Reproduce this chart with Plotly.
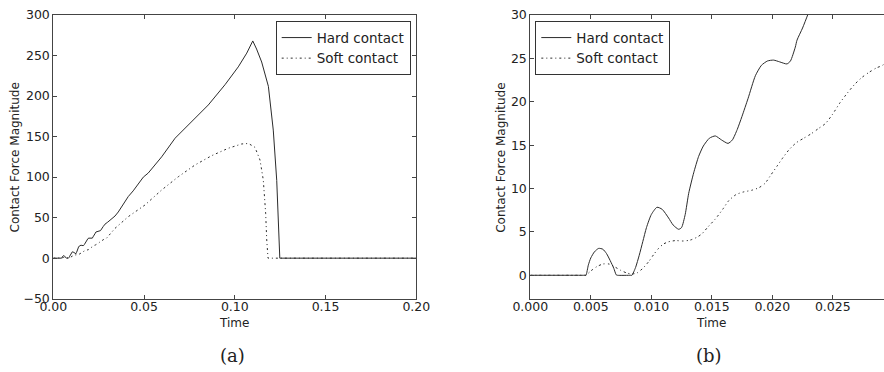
import plotly.graph_objects as go

# Contact force histories (time in s, force magnitude)
hard_t = [0.0, 0.0040, 0.0045, 0.0046, 0.0048, 0.0050, 0.0053, 0.00565, 0.0060, 0.0063, 0.0066,
          0.0069, 0.0071, 0.0072, 0.0083, 0.0084, 0.0087, 0.0090, 0.0093, 0.0096, 0.0100, 0.01047,
          0.0109, 0.01143, 0.0118, 0.01226, 0.0125, 0.0128, 0.01309, 0.0135, 0.01391, 0.0143, 0.0148,
          0.01529, 0.0158, 0.01634, 0.0167, 0.0171, 0.01749, 0.0180, 0.0186, 0.0191, 0.0196, 0.02011,
          0.0206, 0.02121, 0.0215, 0.0219, 0.02204, 0.0225, 0.02292, 0.0235, 0.0245, 0.0260, 0.0275,
          0.0285, 0.0300, 0.0320, 0.0340, 0.0358, 0.0386, 0.0413, 0.0440, 0.0468, 0.0496, 0.0523,
          0.0597, 0.0671, 0.0763, 0.0854, 0.0946, 0.1019, 0.1066, 0.1099, 0.1120, 0.1148, 0.1185,
          0.1212, 0.1231, 0.1244, 0.1248, 0.2000]
hard_f = [0.0, 0.0, 0.0, 0.0, 1.2, 2.0, 2.7, 3.1, 3.0, 2.5, 1.7,
          0.8, 0.05, 0.0, 0.0, 0.0, 0.9, 2.3, 3.9, 5.5, 7.0, 7.84,
          7.6, 6.6, 5.8, 5.3, 5.5, 7.0, 9.45, 11.8, 13.7, 14.9, 15.8,
          16.06, 15.6, 15.2, 15.6, 16.8, 18.3, 20.4, 23.0, 24.2, 24.7, 24.8,
          24.6, 24.36, 24.7, 26.3, 27.1, 28.5, 30.0, 32.3, 33.0, 34.0, 39.0,
          42.0, 44.5, 48.0, 52.0, 57.0, 67.0, 76.0, 83.0, 91.5, 100.0, 105.0,
          125.0, 148.0, 168.0, 189.0, 214.0, 236.0, 253.0, 268.0, 258.0, 242.0, 212.0,
          158.0, 96.0, 22.0, 0.0, 0.0]

soft_t = [0.0, 0.0040, 0.0045, 0.0046, 0.0050, 0.0055, 0.0060, 0.0065, 0.0070, 0.0075, 0.0080,
          0.0084, 0.0088, 0.0093, 0.0098, 0.0102, 0.0106, 0.0110, 0.0114, 0.0120, 0.0126, 0.0132,
          0.0138, 0.0142, 0.0147, 0.0153, 0.0159, 0.0164, 0.0170, 0.0176, 0.0183, 0.0189, 0.0194,
          0.0199, 0.0204, 0.0209, 0.0214, 0.0220, 0.0226, 0.0232, 0.0238, 0.0244, 0.0250, 0.0256,
          0.0262, 0.0268, 0.0274, 0.0280, 0.0286, 0.0292, 0.0340, 0.0413, 0.0505, 0.0597, 0.0689,
          0.0781, 0.0873, 0.0964, 0.1038, 0.1075, 0.1111, 0.1139, 0.1157, 0.1170, 0.1176, 0.1183,
          0.2000]
soft_f = [0.0, 0.0, 0.0, 0.0, 0.5, 1.0, 1.3, 1.3, 0.95, 0.55, 0.25,
          0.15, 0.25, 0.8, 1.6, 2.4, 3.1, 3.6, 3.85, 4.0, 3.95, 4.05,
          4.4, 4.8, 5.6, 6.5, 7.6, 8.6, 9.3, 9.6, 9.8, 10.1, 10.6,
          11.6, 12.6, 13.6, 14.5, 15.3, 15.8, 16.3, 16.9, 17.5, 18.6, 19.9,
          21.0, 22.0, 22.8, 23.4, 23.9, 24.3, 36.8, 51.2, 65.6, 84.1, 100.5,
          115.0, 126.5, 135.6, 140.9, 141.5, 136.8, 121.0, 96.4, 55.4, 22.4, 0.0,
          0.0]

ticks_a_x = [0.00, 0.05, 0.10, 0.15, 0.20]
ticks_a_y = [-50, 0, 50, 100, 150, 200, 250, 300]
ticks_b_x = [0.000, 0.005, 0.010, 0.015, 0.020, 0.025]
ticks_b_y = [0, 5, 10, 15, 20, 25, 30]

W, H = 884, 372
INK = "#2b2b2b"
FRAME = "#444444"
TEXT = "#222222"
SANS = "DejaVu Sans"
SERIF = "DejaVu Serif"
SOFT_DASH = "2px,3px,1px,3px"

fig = go.Figure()

# Panel (a): full time history, straight segments
fig.add_trace(go.Scatter(x=hard_t, y=hard_f, mode="lines", name="Hard contact",
                         line=dict(color=INK, width=1), xaxis="x", yaxis="y", legend="legend"))
fig.add_trace(go.Scatter(x=soft_t, y=soft_f, mode="lines", name="Soft contact",
                         line=dict(color=INK, width=1, dash=SOFT_DASH),
                         xaxis="x", yaxis="y", legend="legend"))
# Panel (b): close-up of the onset, smoothed
fig.add_trace(go.Scatter(x=hard_t, y=hard_f, mode="lines", name="Hard contact",
                         line=dict(color=INK, width=1, shape="spline", smoothing=0.6),
                         xaxis="x2", yaxis="y2", legend="legend2"))
fig.add_trace(go.Scatter(x=soft_t, y=soft_f, mode="lines", name="Soft contact",
                         line=dict(color=INK, width=1, dash=SOFT_DASH, shape="spline", smoothing=0.6),
                         xaxis="x2", yaxis="y2", legend="legend2"))

top = (H - 15) / H
bottom = (H - 298.7) / H

axis_common = dict(showline=True, linecolor=FRAME, linewidth=1, ticks="inside",
                   ticklen=4, tickcolor=FRAME, tickwidth=1, showgrid=False, zeroline=False,
                   automargin=False, tickfont=dict(family=SANS, size=12.5, color=TEXT))

legend_common = dict(bgcolor="white", bordercolor="#333333", borderwidth=1,
                     font=dict(family=SANS, size=13.5, color=TEXT), tracegroupgap=0)

fig.update_layout(
    width=W, height=H,
    margin=dict(l=0, r=0, t=0, b=0, autoexpand=False),
    paper_bgcolor="white", plot_bgcolor="white",
    xaxis=dict(domain=[53.3 / W, 416.3 / W], range=[0, 0.2], tickvals=ticks_a_x,
               tickformat=".2f", mirror="allticks", anchor="y", ticklabelstandoff=-4,
               **axis_common),
    yaxis=dict(domain=[bottom, top], range=[-50, 300], tickvals=ticks_a_y,
               mirror="allticks", anchor="x", **axis_common),
    xaxis2=dict(domain=[530.3 / W, 1.0], range=[0, 0.02923], tickvals=ticks_b_x,
                tickformat=".3f", mirror="allticks", anchor="y2", ticklabelstandoff=-4,
                **axis_common),
    yaxis2=dict(domain=[bottom, top], range=[-2.7, 30], tickvals=ticks_b_y,
                mirror=False, anchor="x2", **axis_common),
    legend=dict(x=410.7 / W, xanchor="right", y=(H - 21.3) / H, yanchor="top", **legend_common),
    legend2=dict(x=535.3 / W, xanchor="left", y=(H - 21.3) / H, yanchor="top", **legend_common),
)

# Axis titles and panel captions
labels = [
    ("Contact Force Magnitude", 15, 157.5, -90, SANS, 12),
    ("Contact Force Magnitude", 501.3, 157.5, -90, SANS, 12),
    ("Time", 234.2, 322.7, 0, SANS, 12),
    ("Time", 711.0, 322.7, 0, SANS, 12),
    ("(a)", 232.0, 355.5, 0, SERIF, 18),
    ("(b)", 708.7, 355.5, 0, SERIF, 18),
]
for text, px, py, ang, fam, size in labels:
    fig.add_annotation(text=text, x=px / W, y=(H - py) / H, xref="paper", yref="paper",
                       xanchor="center", yanchor="middle", showarrow=False, textangle=ang,
                       font=dict(family=fam, size=size, color=TEXT))

fig.write_html("out.html")
